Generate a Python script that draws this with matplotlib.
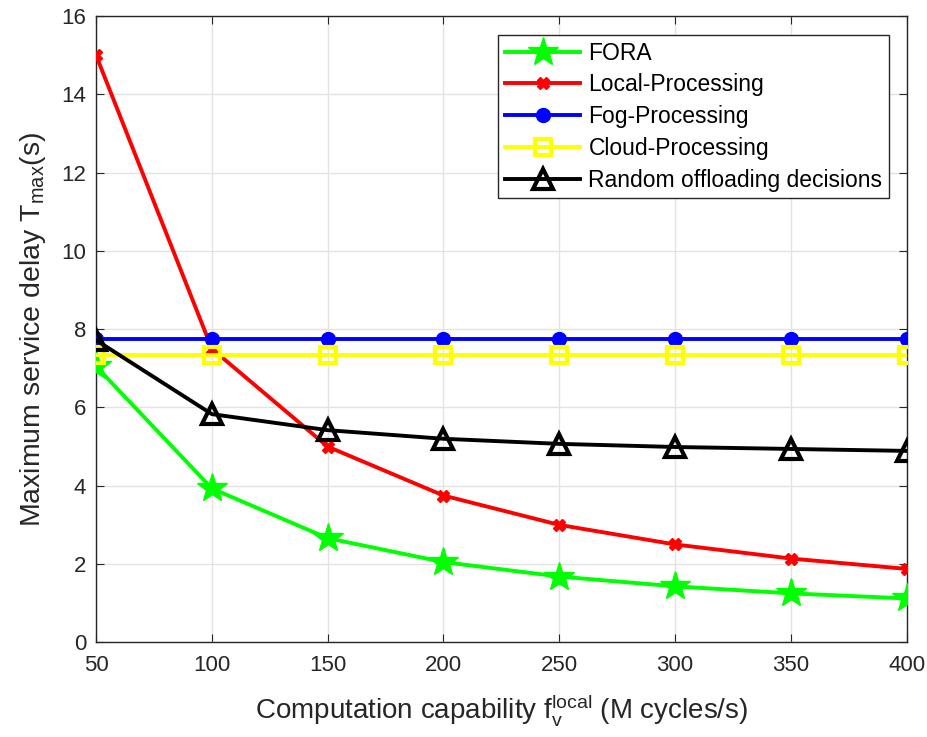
import numpy as np
import matplotlib.pyplot as plt

plt.rcParams['font.family'] = ['Liberation Sans', 'DejaVu Sans']
plt.rcParams['mathtext.fontset'] = 'custom'
plt.rcParams['mathtext.rm'] = 'Liberation Sans'
plt.rcParams['mathtext.it'] = 'Liberation Sans'

f_local = [50, 100, 150, 200, 250, 300, 350, 400]
fora = [7.05, 3.93, 2.66, 2.05, 1.68, 1.43, 1.25, 1.12]
local_proc = [15.0, 7.5, 5.0, 3.75, 3.0, 2.5, 2.14, 1.875]
fog_proc = [7.76, 7.76, 7.76, 7.76, 7.76, 7.76, 7.76, 7.76]
cloud_proc = [7.33, 7.33, 7.33, 7.33, 7.33, 7.33, 7.33, 7.33]
random_off = [7.72, 5.83, 5.42, 5.2, 5.07, 4.99, 4.94, 4.89]

fig = plt.figure(figsize=(9.27, 7.37), dpi=100)
ax = fig.add_axes([0.1036, 0.1285, 0.8745, 0.8497])

lw = 2.8
ax.plot(f_local, fora, '-', color='#00ff00', lw=lw, marker='*', ms=22, label='FORA', zorder=3)
ax.plot(f_local, local_proc, '-', color='red', lw=lw, marker='X', ms=8, label='Local-Processing', zorder=3)
ax.plot(f_local, fog_proc, '-', color='blue', lw=lw, marker='o', ms=10, label='Fog-Processing', zorder=3)
ax.plot(f_local, cloud_proc, '-', color='yellow', lw=lw, marker='s', ms=11, mfc='none', mew=3,
        label='Cloud-Processing', zorder=3)
ax.plot(f_local, random_off, '-', color='black', lw=lw, marker='^', ms=15, mfc='none', mew=3,
        label='Random offloading decisions', zorder=3)

ax.set_xlim(50, 400)
ax.set_ylim(0, 16)
ax.set_xticks(np.arange(50, 401, 50))
ax.set_yticks(np.arange(0, 17, 2))
ax.grid(True, color='#e3e3e3', lw=1)
ax.set_axisbelow(True)
ax.tick_params(direction='in', top=True, right=True, labelsize=16, colors='#262626', length=6)
ax.tick_params(axis='x', pad=9)
ax.tick_params(axis='y', pad=7)
for s in ax.spines.values():
    s.set_color('#262626')
    s.set_linewidth(1)

ax.set_xlabel(r'Computation capability f$_{\mathrm{v}}^{\mathrm{local}}$ (M cycles/s)', fontsize=20,
              color='#262626', labelpad=12)
ax.set_ylabel(r'Maximum service delay T$_{\mathrm{max}}$(s)', fontsize=20.5, color='#262626', labelpad=10)

leg = ax.legend(loc='upper right', bbox_to_anchor=(0.9785, 0.97), fontsize=16.5, fancybox=False,
                edgecolor='#262626', framealpha=1, handlelength=3.3, borderpad=0.3, labelspacing=0.38,
                handletextpad=0.35, borderaxespad=0)
leg.get_frame().set_linewidth(1)

fig.savefig('out.png', dpi=100)
